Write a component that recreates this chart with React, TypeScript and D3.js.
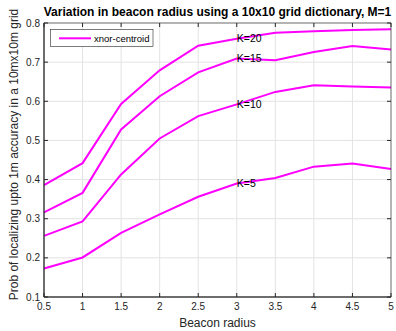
import React from "react";
import * as d3 from "d3";

const radius = [0.5, 1, 1.5, 2, 2.5, 3, 3.5, 4, 4.5, 5];
const k5 = [0.173, 0.201, 0.264, 0.311, 0.356, 0.39, 0.404, 0.433, 0.441, 0.427];
const k10 = [0.256, 0.293, 0.413, 0.505, 0.562, 0.592, 0.624, 0.641, 0.638, 0.635];
const k15 = [0.316, 0.366, 0.528, 0.613, 0.674, 0.709, 0.705, 0.726, 0.741, 0.732];
const k20 = [0.386, 0.442, 0.593, 0.679, 0.742, 0.76, 0.775, 0.779, 0.782, 0.784];
const seriesLabels = ["K=5", "K=10", "K=15", "K=20"];
const xTicks = [0.5, 1, 1.5, 2, 2.5, 3, 3.5, 4, 4.5, 5];
const yTicks = [0.1, 0.2, 0.3, 0.4, 0.5, 0.6, 0.7, 0.8];
const labelAtX = 3;

export default function App() {
  const W = 396, H = 331;
  const L = 44, R = 391, T = 23, B = 297;
  const x = d3.scaleLinear().domain([0.5, 5]).range([L, R]);
  const y = d3.scaleLinear().domain([0.1, 0.8]).range([B, T]);
  const line = d3.line<number>().x((_, i) => x(radius[i])).y((d) => y(d));
  const series = [k5, k10, k15, k20];
  const axisColor = "#262626";
  const font = "Liberation Sans, Arial, sans-serif";
  const tl = 4;
  return (
    <svg width={W} height={H} style={{ position: "absolute", left: 0, top: 0 }} fontFamily={font}>
      <rect x={0} y={0} width={W} height={H} fill="#fff" />
      {xTicks.map((t) => (
        <line key={"gx" + t} x1={x(t)} x2={x(t)} y1={T} y2={B} stroke="#e3e3e3" strokeWidth={1} />
      ))}
      {yTicks.map((t) => (
        <line key={"gy" + t} x1={L} x2={R} y1={y(t)} y2={y(t)} stroke="#e3e3e3" strokeWidth={1} />
      ))}
      {series.map((s, i) => (
        <path key={"s" + i} d={line(s) || ""} fill="none" stroke="#ff00ff" strokeWidth={2} />
      ))}
      {series.map((s, i) => (
        <text key={"l" + i} x={x(labelAtX)} y={y(s[radius.indexOf(labelAtX)])} dy="0.35em" fontSize={10.5} fill="#000">
          {seriesLabels[i]}
        </text>
      ))}
      <rect x={L} y={T} width={R - L} height={B - T} fill="none" stroke={axisColor} strokeWidth={0.6} />
      <line x1={L} x2={L} y1={T} y2={B} stroke={axisColor} strokeWidth={1} />
      <line x1={L} x2={R} y1={B} y2={B} stroke={axisColor} strokeWidth={1} />
      {xTicks.map((t) => (
        <g key={"tx" + t}>
          <line x1={x(t)} x2={x(t)} y1={B} y2={B - tl} stroke={axisColor} />
          <line x1={x(t)} x2={x(t)} y1={T} y2={T + tl} stroke={axisColor} />
          <text x={x(t)} y={B + 13} textAnchor="middle" fontSize={10} fill={axisColor}>{t}</text>
        </g>
      ))}
      {yTicks.map((t) => (
        <g key={"ty" + t}>
          <line x1={L} x2={L + tl} y1={y(t)} y2={y(t)} stroke={axisColor} />
          <line x1={R} x2={R - tl} y1={y(t)} y2={y(t)} stroke={axisColor} />
          <text x={L - 4} y={y(t)} dy="0.35em" textAnchor="end" fontSize={10} fill={axisColor}>{t.toFixed(1)}</text>
        </g>
      ))}
      <text x={(L + R) / 2} y={16} textAnchor="middle" fontSize={12} fontWeight="bold" fill="#000">
        Variation in beacon radius using a 10x10 grid dictionary, M=1
      </text>
      <text x={(L + R) / 2} y={327} textAnchor="middle" fontSize={12} fill={axisColor}>Beacon radius</text>
      <text transform={`translate(18,154.5) rotate(-90)`} textAnchor="middle" fontSize={12} fill={axisColor}>
        Prob of localizing upto 1m accuracy in a 10mx10m grid
      </text>
      <rect x={50.5} y={29.5} width={102.5} height={17} fill="#fff" stroke={axisColor} strokeWidth={0.6} />
      <line x1={59} x2={91} y1={38.3} y2={38.3} stroke="#ff00ff" strokeWidth={2} />
      <text x={94} y={38.3} dy="0.35em" fontSize={9.5} fill="#000">xnor-centroid</text>
    </svg>
  );
}
